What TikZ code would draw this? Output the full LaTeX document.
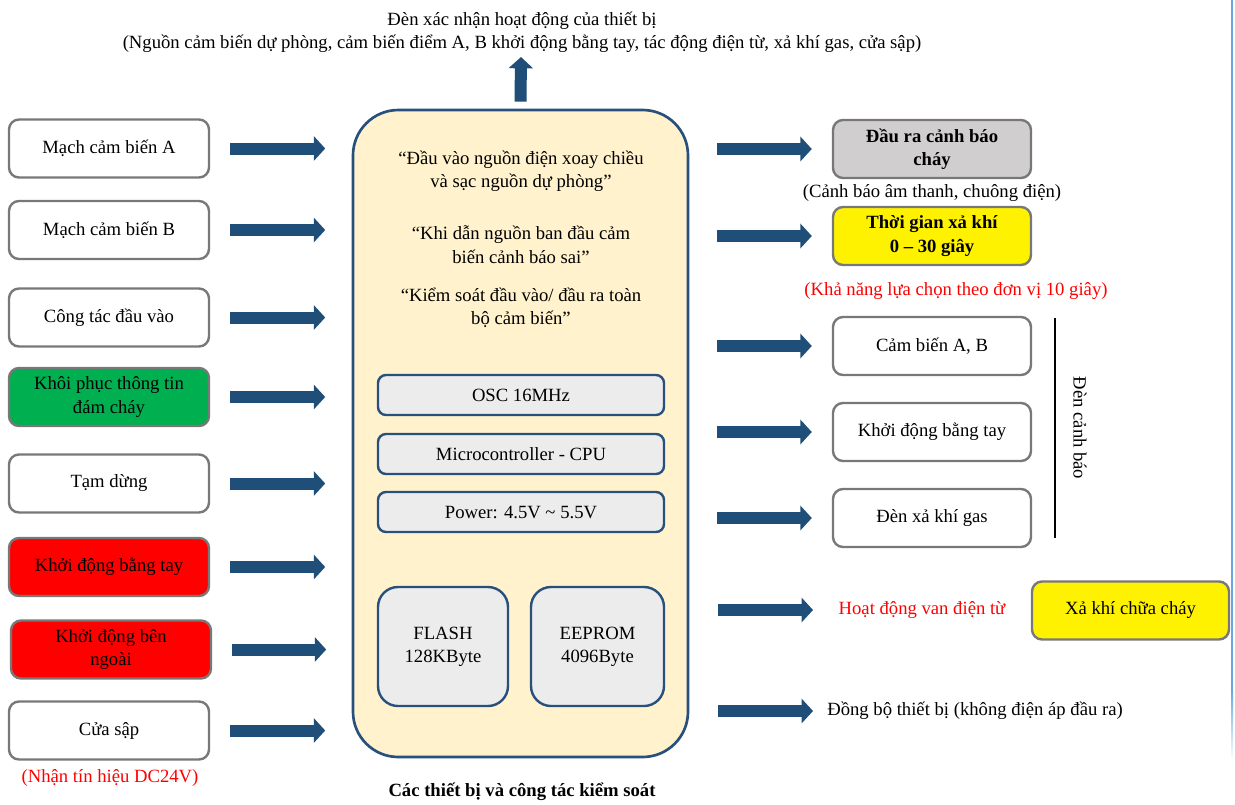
\documentclass[tikz,border=0pt]{standalone}
\usepackage{fontspec}
\setmainfont{Liberation Serif}
\usetikzlibrary{arrows.meta,calc}
\definecolor{arrowblue}{RGB}{31,78,121}
\definecolor{cborder}{RGB}{40,80,125}
\definecolor{boxgray}{RGB}{120,120,120}
\definecolor{cfill}{RGB}{255,242,204}
\definecolor{ingray}{RGB}{236,236,236}
\definecolor{okgreen}{RGB}{0,176,80}
\definecolor{alarmgray}{RGB}{208,206,206}
\definecolor{edgeblue}{RGB}{110,165,225}
\begin{document}
\begin{tikzpicture}[x=0.75pt,y=-0.75pt,
  font=\fontsize{14}{17.5}\selectfont,
  box/.style={draw=boxgray, line width=1.8pt, rounded corners=7.5pt,
    minimum width=150pt, minimum height=43.5pt, align=center, inner sep=2pt, fill=white},
  rbox/.style={box, minimum width=148.5pt},
  inbox/.style={draw=cborder, line width=1.8pt, fill=ingray, rounded corners=6pt,
    minimum width=214.5pt, minimum height=30pt, align=center},
  membox/.style={draw=cborder, line width=1.8pt, fill=ingray, rounded corners=15pt,
    minimum height=89.25pt, align=center},
  txt/.style={align=center, inner sep=0pt},
  barrow/.style={draw=arrowblue, line width=9pt, -{Triangle[width=18pt,length=8.5pt]}},
]
\useasboundingbox (0,0) rectangle (1235,804);
\fill[white] (0,0) rectangle (1235,804);

% right edge line
\coordinate (e1) at (1232,0);
\coordinate (e2) at (1232,690);
\draw[edgeblue, line width=1.6pt] (e1) -- (e2);
\shade[top color=edgeblue, bottom color=white] (1231.0,690) rectangle (1233.2,760);

% top text and arrow
\node[txt] (top) at (522,32) {Đèn xác nhận hoạt động của thiết bị\\(Nguồn cảm biến dự phòng, cảm biến điểm A, B khởi động bằng tay, tác động điện từ, xả khí gas, cửa sập)};

% central box
\node[draw=cborder, line width=2pt, fill=cfill, rounded corners=34pt,
  minimum width=251.25pt, minimum height=485.25pt] (ctr) at (520.5,433.5) {};
\coordinate (uptip) at (521,57);
\draw[barrow] ($(ctr.north)+(0,-7)$) -- (uptip);

\node[txt] (q1) at (521,171) {“Đầu vào nguồn điện xoay chiều\\và sạc nguồn dự phòng”};
\node[txt] (q2) at (521,244.5) {“Khi dẫn nguồn ban đầu cảm\\biến cảnh báo sai”};
\node[txt] (q3) at (521,307.5) {“Kiểm soát đầu vào/ đầu ra toàn\\bộ cảm biến”};

\node[inbox] (osc) at (521,395) {OSC 16MHz};
\node[inbox] (cpu) at (521,454) {Microcontroller - CPU};
\node[inbox] (pwr) at (521,512) {Power: 4.5V \textasciitilde{} 5.5V};
\node[membox, minimum width=97.5pt] (flash) at (443,646.5) {FLASH\\128KByte};
\node[membox, minimum width=99.75pt] (eeprom) at (597.5,646.5) {EEPROM\\4096Byte};

\node[txt, font=\fontsize{14}{17}\selectfont\bfseries] (cap) at (522,792) {Các thiết bị và công tác kiểm soát};

% left column
\node[box] (l1) at (109,148.5) {Mạch cảm biến A};
\node[box] (l2) at (109,230) {Mạch cảm biến B};
\node[box] (l3) at (109,317.5) {Công tác đầu vào};
\node[box, fill=okgreen] (l4) at (109,397) {Khôi phục thông tin\\đám cháy};
\node[box] (l5) at (109,483.5) {Tạm dừng};
\node[box, fill=red] (l6) at (109,567) {Khởi động bằng tay};
\node[box, fill=red] (l7) at (111,649.5) {Khởi động bên\\ngoài};
\node[box] (l8) at (109,730.5) {Cửa sập};
\node[txt, text=red] (dc) at (110,778) {(Nhận tín hiệu DC24V)};

\foreach \n in {l1,l2,l3,l4,l5,l6,l8}{
  \draw[barrow] ($(\n.east)+(20,0)$) -- ($(\n.east)+(115,0)$);
}
\draw[barrow] ($(l7.east)+(20,0)$) -- ($(l7.east)+(114,0)$);

% right column
\node[rbox, fill=alarmgray, font=\fontsize{14}{17.5}\selectfont\bfseries] (r1) at (932,149) {Đầu ra cảnh báo\\cháy};
\node[txt] (r1c) at (932,193) {(Cảnh báo âm thanh, chuông điện)};
\node[rbox, fill=yellow, font=\fontsize{14}{17.5}\selectfont\bfseries] (r2) at (932,236) {Thời gian xả khí\\0 – 30 giây};
\node[txt, text=red] (r2c) at (956,291) {(Khả năng lựa chọn theo đơn vị 10 giây)};
\node[rbox] (r3) at (932,346) {Cảm biến A, B};
\node[rbox] (r4) at (932,432) {Khởi động bằng tay};
\node[rbox] (r5) at (932,518) {Đèn xả khí gas};

\coordinate (v1) at (1055,318);
\coordinate (v2) at (1055,538);
\draw[line width=2.2pt] (v1) -- (v2);
\node[txt, rotate=-90] (den) at (1080,428) {Đèn cảnh báo};

\node[txt, text=red] (van) at (922,610) {Hoạt động van điện từ};
\node[rbox, fill=yellow, minimum width=147.75pt] (xa) at (1130.5,610.5) {Xả khí chữa cháy};
\node[txt, anchor=west] (dong) at (827,711) {Đồng bộ thiết bị (không điện áp đầu ra)};

\foreach \n in {r1,r2,r3,r4,r5}{
  \draw[barrow] ($(\n.west)+(-115,0)$) -- ($(\n.west)+(-20,0)$);
}
\coordinate (a6s) at (718,610);
\coordinate (a6e) at (813,610);
\draw[barrow] (a6s) -- (a6e);
\coordinate (a7s) at (718,711);
\coordinate (a7e) at (813,711);
\draw[barrow] (a7s) -- (a7e);
\end{tikzpicture}
\end{document}
